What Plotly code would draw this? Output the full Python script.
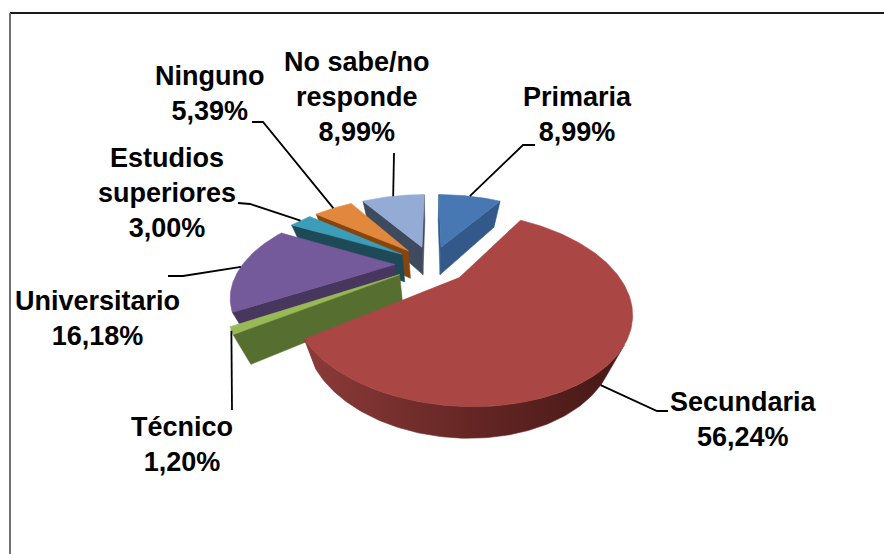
import numpy as np
import plotly.graph_objects as go

# ---------------- data ----------------
categories = ["Primaria", "Secundaria", "Técnico", "Universitario",
              "Estudios superiores", "Ninguno", "No sabe/no responde"]
values = [8.99, 56.24, 1.20, 16.18, 3.00, 5.39, 8.99]
label_names = ["Primaria", "Secundaria", "Técnico", "Universitario",
               "Estudios<br>superiores", "Ninguno", "No sabe/no<br>responde"]

# ---------------- styles ----------------
top_colors = ["#4878B4", "#AA4643", "#98BA56", "#74599B", "#3B9DB8", "#E2883D", "#94ABD6"]
side_colors = ["#32598A", "#6E2A28", "#566F30", "#47365E", "#1D4A56", "#86440F", "#3E4A5E"]
red_wall_scale = [[0, "#8C3B39"], [0.5, "#662725"], [1, "#451816"]]

# ---------------- 3D projection params (pixels) ----------------
CX, CY = 431.5, 264.0
AX, AY = 152.0, 78.0
K = 0.311
EXPLODE = 0.24
SHRINK = 0.91  # bottom face horizontal perspective shrink

# label layout: center positions, leader elbow points, anchor depth fraction
label_pos = [(577, 114), (743, 419), (182, 444), (97, 318), (167, 193), (209, 93), (357, 97)]
leader_elbows = [
    [(535, 145), (523, 145)],
    [(668, 411), (657, 411)],
    [(232, 410)],
    [(168, 276), (183, 276)],
    [(238, 203), (250, 204)],
    [(252, 122), (263, 122)],
    [(394, 153)],
]
anchor_depth = [0, 1.0, 0, 0, 0, 0, 0]
LABEL_FONT = "Liberation Sans, Arial, sans-serif"
LABEL_SIZE = 27


def proj(X, Z):
    w = 1.0 / (1.0 + K * Z)
    return CX + AX * X * w, CY - AY * Z * w, w


def thick(w):
    return 21 + 6.8 * w


def bottom(sx, sy, w):
    return CX + (sx - CX) * SHRINK, sy + thick(w)


fig = go.Figure()

total = sum(values)
starts = np.concatenate([[0], np.cumsum(values)[:-1]]) / total * 360
ends = np.cumsum(values) / total * 360

slices = []
for i, v in enumerate(values):
    a0, a1 = starts[i], ends[i]
    m = np.radians((a0 + a1) / 2)
    axw, azw = EXPLODE * np.sin(m), EXPLODE * np.cos(m)
    n = max(4, int((a1 - a0) / 1.0) + 2)
    th = np.radians(np.linspace(a0, a1, n))
    X = axw + np.sin(th)
    Z = azw + np.cos(th)
    sx, sy, w = proj(X, Z)
    bx, by = bottom(sx, sy, w)
    px, py, pw = proj(np.array([axw]), np.array([azw]))
    px, py, pw = px[0], py[0], pw[0]
    pbx, pby = bottom(px, py, pw)
    slices.append(dict(i=i, az=azw, sx=sx, sy=sy, bx=bx, by=by, px=px, py=py,
                       pbx=pbx, pby=pby, m=m, axw=axw))


def faces_away(x0, y0, x1, y1, ix, iy, ex, ey):
    dx, dy = x1 - x0, y1 - y0
    c1 = dx * (iy - y0) - dy * (ix - x0)
    c2 = dx * ey - dy * ex
    return c1 * c2 < 0


def add_poly(xs, ys, color, gradient=None):
    kw = dict(x=list(xs) + [xs[0]], y=list(ys) + [ys[0]], mode="lines", fill="toself",
              line=dict(color=color, width=0.6), hoverinfo="skip", showlegend=False)
    if gradient is not None:
        kw["fillgradient"] = gradient
    else:
        kw["fillcolor"] = color
    fig.add_trace(go.Scatter(**kw))


for s in sorted(slices, key=lambda d: -d["az"]):
    i = s["i"]
    sx, sy, bx, by = s["sx"], s["sy"], s["bx"], s["by"]
    px, py, pbx, pby = s["px"], s["py"], s["pbx"], s["pby"]
    mx, my, _ = proj(np.array([s["axw"] + 0.5 * np.sin(s["m"])]),
                     np.array([s["az"] + 0.5 * np.cos(s["m"])]))
    mx, my = mx[0], my[0]
    # radial cut faces
    for j in (0, len(sx) - 1):
        if faces_away(px, py, sx[j], sy[j], mx, my, bx[j] - sx[j], by[j] - sy[j]):
            add_poly([px, sx[j], bx[j], pbx], [py, sy[j], by[j], pby], side_colors[i])
    # outer wall: contiguous visible runs
    vis = [faces_away(sx[j], sy[j], sx[j + 1], sy[j + 1], px, py,
                      bx[j] - sx[j], by[j] - sy[j]) for j in range(len(sx) - 1)]
    j = 0
    while j < len(vis):
        if vis[j]:
            k = j
            while k < len(vis) and vis[k]:
                k += 1
            xs = list(sx[j:k + 1]) + list(bx[j:k + 1][::-1])
            ys = list(sy[j:k + 1]) + list(by[j:k + 1][::-1])
            grad = None
            if i == 1:
                grad = dict(type="horizontal", colorscale=red_wall_scale)
            add_poly(xs, ys, side_colors[i], grad)
            j = k
        else:
            j += 1
    # top face
    add_poly([px] + list(sx), [py] + list(sy), top_colors[i])

# leader lines
for s in slices:
    i = s["i"]
    X = s["axw"] + np.sin(s["m"])
    Z = s["az"] + np.cos(s["m"])
    ax_, ay_, aw = proj(np.array([X]), np.array([Z]))
    ax_, ay_, aw = ax_[0], ay_[0], aw[0]
    if anchor_depth[i]:
        bxa, bya = bottom(ax_, ay_, aw)
        ax_ = ax_ + anchor_depth[i] * (bxa - ax_)
        ay_ = ay_ + anchor_depth[i] * (bya - ay_)
    pts = leader_elbows[i] + [(ax_, ay_)]
    fig.add_trace(go.Scatter(x=[p[0] for p in pts], y=[p[1] for p in pts], mode="lines",
                             line=dict(color="#000000", width=1.8), hoverinfo="skip",
                             showlegend=False))

# labels
for i, v in enumerate(values):
    pct = f"{v:.2f}".replace(".", ",") + "%"
    fig.add_annotation(x=label_pos[i][0], y=label_pos[i][1], xref="x", yref="y",
                       text=f"<b>{label_names[i]}<br>{pct}</b>", showarrow=False,
                       xanchor="center", yanchor="middle",
                       font=dict(family=LABEL_FONT, size=LABEL_SIZE, color="#000000"))

# chart border
fig.add_shape(type="line", x0=10, y0=13, x1=884, y1=13, xref="x", yref="y",
              line=dict(color="#1A1A1A", width=2))
fig.add_shape(type="line", x0=10, y0=13, x1=10, y1=554, xref="x", yref="y",
              line=dict(color="#707070", width=2))

fig.update_layout(
    width=884, height=554, autosize=False,
    margin=dict(l=0, r=0, t=0, b=0),
    paper_bgcolor="#FFFFFF", plot_bgcolor="#FFFFFF",
    xaxis=dict(range=[0, 884], visible=False, fixedrange=True),
    yaxis=dict(range=[554, 0], visible=False, fixedrange=True),
    showlegend=False,
)

fig.write_html("out.html", config={"displayModeBar": False, "staticPlot": True},
               post_script="document.body.style.margin='0';document.body.style.overflow='hidden';")
